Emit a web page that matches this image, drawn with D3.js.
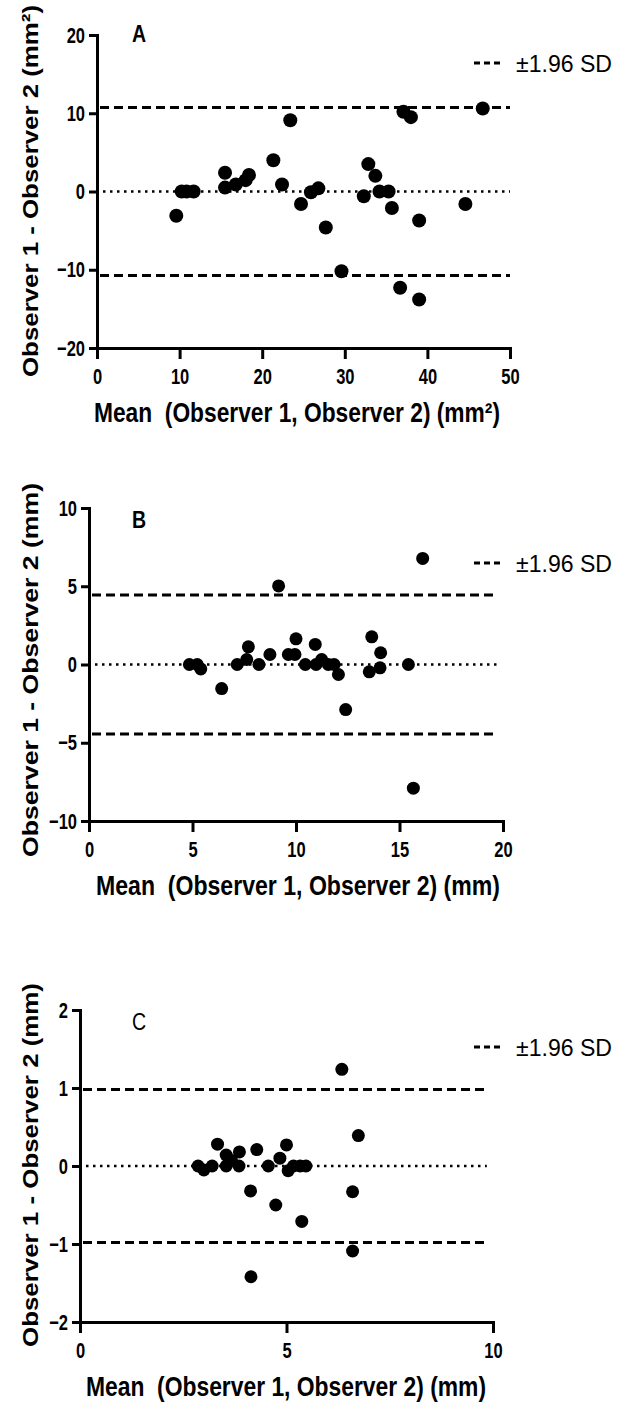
<!DOCTYPE html>
<html>
<head>
<meta charset="utf-8">
<script src="https://cdn.jsdelivr.net/npm/d3@7"></script>
<style>
  body { margin: 0; background: #fff; }
  svg { display: block; }
  text { white-space: pre; }
</style>
</head>
<body>
<div id="chart"></div>
<script>
// panel A: area (mm2)
const aMean = [9.6, 10.25, 10.85, 11.7, 15.5, 15.5, 16.8, 18.0, 18.4, 21.35, 22.4, 23.4, 24.7, 25.9, 26.8, 27.7, 29.6, 32.3, 32.85, 33.7, 34.2, 35.3, 35.7, 36.7, 37.1, 38.0, 39.0, 39.0, 44.6, 46.7];
const aDiff = [-3.1, 0, 0, 0, 2.4, 0.5, 0.9, 1.45, 2.1, 4.0, 0.9, 9.1, -1.6, -0.1, 0.4, -4.6, -10.2, -0.6, 3.5, 2.0, 0, 0, -2.1, -12.3, 10.2, 9.5, -3.7, -13.8, -1.6, 10.6];
// panel B (mm)
const bMean = [4.85, 5.23, 5.4, 6.41, 7.16, 7.62, 7.7, 8.21, 8.74, 9.16, 9.63, 9.95, 10.0, 10.45, 10.93, 10.97, 11.24, 11.56, 11.84, 12.05, 12.4, 13.54, 13.66, 14.06, 14.09, 15.43, 15.67, 16.12];
const bDiff = [0, 0, -0.28, -1.54, 0, 0.32, 1.13, 0, 0.64, 5.02, 0.64, 0.64, 1.64, 0, 1.28, 0, 0.32, 0, 0, -0.64, -2.88, -0.47, 1.77, -0.21, 0.75, 0, -7.9, 6.78];
// panel C (mm)
const cMean = [2.86, 3.0, 3.2, 3.33, 3.54, 3.54, 3.67, 3.86, 3.85, 4.13, 4.28, 4.56, 4.74, 4.84, 5.0, 5.04, 5.17, 5.33, 5.47, 5.37, 6.34, 6.74, 6.6, 6.6, 4.14];
const cDiff = [0, -0.05, 0, 0.28, 0.14, 0, 0.07, 0.18, 0, -0.32, 0.21, 0, -0.5, 0.1, 0.27, -0.06, 0, 0, 0, -0.71, 1.24, 0.39, -0.33, -1.09, -1.42];

const aXTicks = [0, 10, 20, 30, 40, 50];
const aYTicks = [-20, -10, 0, 10, 20];
const bXTicks = [0, 5, 10, 15, 20];
const bYTicks = [-10, -5, 0, 5, 10];
const cXTicks = [0, 5, 10];
const cYTicks = [-2, -1, 0, 1, 2];

// limits of agreement (+/-1.96 SD) and bias
const loaValues = [10.75, 4.44, 0.98];
const biasValues = [0, 0, 0];
const lineEnds = [50, 19.7, 9.85];

const panelLabels = ["A", "B", "C"];
const units = ["mm\u00b2", "mm", "mm"];
const legendText = "\u00b11.96 SD";

const width = 630, height = 1409;
const font = "'Liberation Sans', Arial, sans-serif";

const panels = [
  {mean: aMean, diff: aDiff, xTicks: aXTicks, yTicks: aYTicks, r: 7,
   x: [97, 510], y: [348, 35], letterY: 42, legendY: 63, labelBold: true, ytitle: [191, 372], xtitle: [297, 406]},
  {mean: bMean, diff: bDiff, xTicks: bXTicks, yTicks: bYTicks, r: 6.5,
   x: [89, 503], y: [821, 508], letterY: 528, legendY: 563, labelBold: true, ytitle: [670, 374], xtitle: [298, 404]},
  {mean: cMean, diff: cDiff, xTicks: cXTicks, yTicks: cYTicks, r: 6.5,
   x: [80, 493], y: [1322, 1010], letterY: 1030, legendY: 1047, labelBold: false, ytitle: [1165, 364], xtitle: [286, 400]}
];

// squeeze text horizontally so it looks like the narrow face of the reference
function condense(sel, k) {
  sel.each(function () {
    const len = this.getComputedTextLength();
    d3.select(this).attr("textLength", len * k).attr("lengthAdjust", "spacingAndGlyphs");
  });
}

const svg = d3.select("#chart").append("svg")
  .attr("width", width).attr("height", height)
  .style("background", "#fff");

panels.forEach((p, i) => {
  const xScale = d3.scaleLinear()
    .domain(d3.extent(p.xTicks))
    .range(p.x);
  const yScale = d3.scaleLinear()
    .domain(d3.extent(p.yTicks))
    .range(p.y);
  const g = svg.append("g");

  // bias and limits of agreement
  const x0 = xScale.domain()[0], x1 = lineEnds[i];
  [loaValues[i], -loaValues[i]].forEach(v => {
    g.append("line")
      .attr("x1", xScale(x0) + 3).attr("x2", xScale(x1))
      .attr("y1", yScale(v)).attr("y2", yScale(v))
      .attr("stroke", "#000").attr("stroke-width", 3)
      .attr("stroke-dasharray", "9,5");
  });
  g.append("line")
    .attr("x1", xScale(x0) + 6).attr("x2", xScale(x1))
    .attr("y1", yScale(biasValues[i])).attr("y2", yScale(biasValues[i]))
    .attr("stroke", "#000").attr("stroke-width", 2.5)
    .attr("stroke-dasharray", "2.5,4.5");

  // points
  g.selectAll("circle")
    .data(p.mean.map((m, k) => ({m: m, d: p.diff[k]})))
    .enter()
    .append("circle")
    .attr("cx", d => xScale(d.m))
    .attr("cy", d => yScale(d.d))
    .attr("r", p.r)
    .attr("fill", "#000");

  // axes
  const yAxis = d3.axisLeft(yScale).tickValues(p.yTicks).tickFormat(d3.format("d"))
    .tickSize(8).tickSizeOuter(0).tickPadding(4);
  const yg = g.append("g")
    .attr("transform", "translate(" + p.x[0] + ",0)")
    .call(yAxis);
  const xAxis = d3.axisBottom(xScale).tickValues(p.xTicks).tickFormat(d3.format("d"))
    .tickSize(11).tickSizeOuter(0).tickPadding(9);
  const xg = g.append("g")
    .attr("transform", "translate(0," + p.y[0] + ")")
    .call(xAxis);
  [yg, xg].forEach(ax => {
    ax.attr("font-family", font).attr("font-size", 22).attr("font-weight", "bold");
    ax.select(".domain").attr("stroke-width", 3).attr("stroke-linecap", "square");
    ax.selectAll(".tick line").attr("stroke-width", 3);
    ax.selectAll(".tick text").attr("fill", "#000").call(condense, 0.75);
  });

  // panel letter
  g.append("text")
    .attr("x", 132).attr("y", p.letterY)
    .attr("font-family", font)
    .attr("font-size", 23)
    .attr("font-weight", p.labelBold ? "bold" : "normal")
    .text(panelLabels[i])
    .call(condense, 0.85);

  // legend
  g.append("line")
    .attr("x1", 474).attr("x2", 500)
    .attr("y1", p.legendY).attr("y2", p.legendY)
    .attr("stroke", "#000").attr("stroke-width", 3)
    .attr("stroke-dasharray", "6,4");
  g.append("text")
    .attr("x", 516).attr("y", p.legendY + 9)
    .attr("font-family", font).attr("font-size", 24)
    .attr("textLength", 96).attr("lengthAdjust", "spacingAndGlyphs")
    .text(legendText);

  // y title
  g.append("text")
    .attr("transform", "translate(38," + p.ytitle[0] + ") rotate(-90)")
    .attr("text-anchor", "middle")
    .attr("font-family", font).attr("font-size", 22).attr("font-weight", "bold")
    .attr("textLength", p.ytitle[1]).attr("lengthAdjust", "spacingAndGlyphs")
    .text("Observer 1 - Observer 2 (" + units[i] + ")");

  // x title
  g.append("text")
    .attr("x", p.xtitle[0]).attr("y", p.y[0] + 74)
    .attr("text-anchor", "middle")
    .attr("font-family", font).attr("font-size", 27).attr("font-weight", "bold")
    .attr("textLength", p.xtitle[1]).attr("lengthAdjust", "spacingAndGlyphs")
    .text("Mean  (Observer 1, Observer 2) (" + units[i] + ")");
});
</script>
</body>
</html>
